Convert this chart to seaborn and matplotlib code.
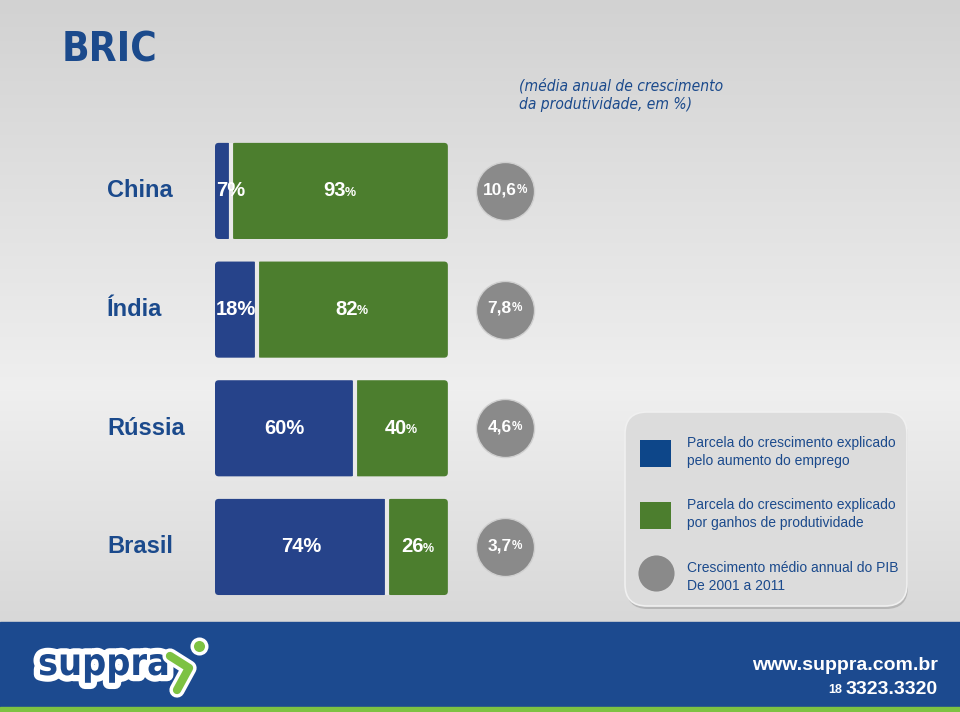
import numpy as np
import pandas as pd
import matplotlib
matplotlib.use("Agg")
import matplotlib.pyplot as plt
import seaborn as sns
from matplotlib.patches import Patch, Rectangle, FancyBboxPatch
from matplotlib.lines import Line2D
import matplotlib.patheffects as pe
import matplotlib.transforms as mtransforms
from matplotlib.colors import to_rgb

# ---------------- data ----------------
paises = ["China", "Índia", "Rússia", "Brasil"]
emprego = [7, 18, 60, 74]            # parcela explicada pelo aumento do emprego (%)
produtividade = [93, 82, 40, 26]     # parcela explicada por ganhos de produtividade (%)
pib = [10.6, 7.8, 4.6, 3.7]          # crescimento médio anual do PIB 2001-2011 (%)
legend_labels = [
    "Parcela do crescimento explicado\npelo aumento do emprego",
    "Parcela do crescimento explicado\npor ganhos de produtividade",
    "Crescimento médio annual do PIB\nDe 2001 a 2011",
]

# ---------------- style ----------------
BLUE = "#26438a"
GREEN = "#4c7e2e"
GRAY = "#8a8a8a"
NAVY = "#1b4a8c"
LEG_BLUE = "#0d4689"
FOOT_BLUE = "#1c4a8f"
FOOT_GREEN = "#7dc242"

sns.set_theme(style="white")
plt.rcParams["font.family"] = ["Liberation Sans", "DejaVu Sans"]
COND = ["DejaVu Sans"]

fig = plt.figure(figsize=(9.6, 7.12), dpi=100)

# background axes in pixel coordinates
bg = fig.add_axes([0, 0, 1, 1], zorder=0)
stops = [(0, "#d2d2d2"), (390, "#efefef"), (620, "#d8d8d8"), (712, "#d8d8d8")]
ys = np.arange(712)
sp = [s[0] for s in stops]
cols = np.array([to_rgb(s[1]) for s in stops])
grad = np.stack([np.interp(ys, sp, cols[:, k]) for k in range(3)], axis=-1)[:, None, :]
bg.imshow(grad, extent=(0, 960, 712, 0), aspect="auto", zorder=0)
bg.add_patch(Rectangle((0, 622), 960, 86, color=FOOT_BLUE, zorder=1))
bg.add_patch(Rectangle((0, 707), 960, 6, color=FOOT_GREEN, zorder=1))

# legend box (frame + soft shadow)
bg.add_patch(FancyBboxPatch((626, 415), 282, 194,
                            boxstyle="round,pad=0,rounding_size=22",
                            fc="#a8a8a8", ec="none", alpha=0.7, zorder=1))
bg.add_patch(FancyBboxPatch((625, 412), 282, 194,
                            boxstyle="round,pad=0,rounding_size=22",
                            fc="#dcdcdc", ec="#f0f0f0", lw=1.2, zorder=2))
bg.set_xlim(0, 960)
bg.set_ylim(712, 0)
bg.axis("off")

# title / subtitle
bg.text(62, 51, "BRIC", fontsize=29, fontweight="bold", color=NAVY,
        family=COND, fontstretch="condensed", ha="left", va="center")
bg.text(519, 95, "(média anual de crescimento\nda produtividade, em %)",
        fontsize=11.2, style="italic", color=NAVY, family=COND,
        fontstretch="condensed", ha="left", va="center", linespacing=1.3)

# footer
bg.text(38, 665, "suppra", fontsize=27, fontweight="bold", color=FOOT_BLUE,
        family=COND, fontstretch="condensed", ha="left", va="center", zorder=3,
        path_effects=[pe.withStroke(linewidth=9, foreground="white")])
bg.plot([170, 189, 177], [656, 668, 690], color=FOOT_GREEN, lw=6, zorder=3,
        solid_capstyle="round", solid_joinstyle="round",
        path_effects=[pe.Stroke(linewidth=11, foreground="white"), pe.Normal()])
bg.scatter([199], [646], s=110, color=FOOT_GREEN, edgecolor="white", lw=2.5, zorder=4)
bg.text(938, 666, "www.suppra.com.br", fontsize=14, fontweight="bold",
        color="white", ha="right", va="center", zorder=3)
tel = bg.text(938, 690, "3323.3320", fontsize=14, fontweight="bold",
              color="white", ha="right", va="center", zorder=3)
bg.annotate("18", xy=(0, 0), xycoords=tel, xytext=(-3, 1.5),
            textcoords="offset points", ha="right", va="bottom",
            fontsize=9, fontweight="bold", color="white", zorder=3)

# ---------------- main chart ----------------
ax = fig.add_axes([215 / 960, 1 - 606.3 / 712, 326 / 960, 474.7 / 712], zorder=2)
ax.patch.set_alpha(0)
df = pd.DataFrame({"pais": paises, "emprego": emprego,
                   "produtividade": produtividade, "pib": pib})
pos = np.arange(len(df))
H = 0.81
XMAX = 140
sns.barplot(data=df, x="emprego", y="pais", color=BLUE, saturation=1,
            width=H, orient="h", ax=ax, linewidth=0)
ax.barh(pos, df["produtividade"], left=df["emprego"], height=H,
        color=GREEN, linewidth=0)
ax.set_xlim(0, XMAX)
ax.set_ylim(3.5, -0.5)

# rounded corners for the bar rectangles (same data extents)
aspect = (4 / 474.7) / (XMAX / 326)
for r in list(ax.patches):
    if isinstance(r, Rectangle) and r.get_width() > 0:
        x0, y0 = r.get_x(), r.get_y()
        w, h = r.get_width(), r.get_height()
        fb = FancyBboxPatch((x0, y0), w, h,
                            boxstyle="round,pad=0,rounding_size=1.6",
                            mutation_aspect=aspect, fc=r.get_facecolor(),
                            ec="none", zorder=2)
        r.set_visible(False)
        ax.add_patch(fb)

ax.vlines(df["emprego"], pos - H / 2, pos + H / 2, color="#e9e9e9", lw=3, zorder=3)
ax.scatter(np.full(len(df), 124.5), pos, s=1750, color=GRAY,
           edgecolor="#cfcfcf", linewidth=1, zorder=3)
ax.axis("off")

lab_tr = mtransforms.blended_transform_factory(fig.transFigure, ax.transData)
for i, row in df.iterrows():
    # country
    ax.text(107 / 960, i, row["pais"], transform=lab_tr, ha="left", va="center",
            fontsize=17, fontweight="bold", color=NAVY)
    # blue part
    e = row["emprego"]
    if e < 15:
        ax.text(0.6, i, f"{e}%", ha="left", va="center", fontsize=14.5,
                fontweight="bold", color="white", zorder=4)
    else:
        ax.text(e / 2, i, f"{e}%", ha="center", va="center", fontsize=14.5,
                fontweight="bold", color="white", zorder=4)
    # green part
    g = row["produtividade"]
    t = ax.annotate(f"{g}", xy=(e + g / 2, i), xytext=(-4, 0),
                    textcoords="offset points", ha="center", va="center",
                    fontsize=14.5, fontweight="bold", color="white", zorder=4)
    ax.annotate("%", xy=(1, 0), xycoords=t, xytext=(-0.6, 1.3),
                textcoords="offset points", ha="left", va="bottom",
                fontsize=9, fontweight="bold", color="white", zorder=4)
    # circle value
    c = ax.annotate(f"{row['pib']:.1f}".replace(".", ","), xy=(124.5, i),
                    xytext=(-4, 1), textcoords="offset points",
                    ha="center", va="center", fontsize=12.5,
                    fontweight="bold", color="white", zorder=4)
    ax.annotate("%", xy=(1, 0), xycoords=c, xytext=(0, 1.1),
                textcoords="offset points", ha="left", va="bottom",
                fontsize=8.5, fontweight="bold", color="white", zorder=4)

# ---------------- legend ----------------
handles = [
    Patch(facecolor=LEG_BLUE, edgecolor="none"),
    Patch(facecolor=GREEN, edgecolor="none"),
    Line2D([], [], marker="o", ls="", ms=26, color=GRAY, markeredgewidth=0),
]
leg = fig.legend(handles, legend_labels, loc="upper left",
                 bbox_to_anchor=(640 / 960, 1 - 436 / 712),
                 frameon=False, labelcolor=NAVY,
                 fontsize=10, handlelength=2.25, handleheight=2.6,
                 labelspacing=2.2, borderpad=0, handletextpad=1.1,
                 borderaxespad=0)
for tx in leg.get_texts():
    tx.set_linespacing(1.35)
leg.set_zorder(5)

fig.savefig("out.png", dpi=100)
